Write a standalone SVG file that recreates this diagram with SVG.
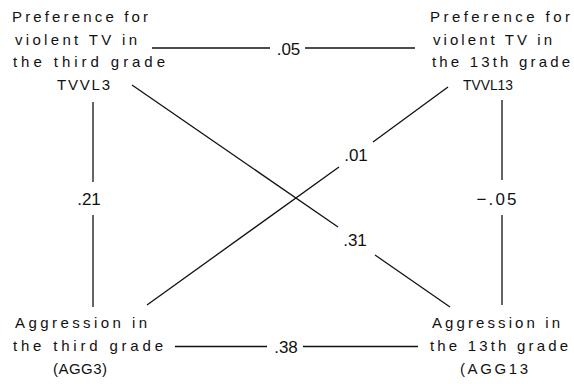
<svg xmlns="http://www.w3.org/2000/svg" width="574" height="384" viewBox="0 0 574 384">
<style>
  .t { font-family: "Liberation Sans", Arial, sans-serif; font-size: 15px; fill: #111; }
  .l { font-family: "Liberation Sans", Arial, sans-serif; font-size: 17px; fill: #111; text-anchor: middle; }
  .c { stroke: #111; stroke-width: 1.3; fill: none; }
</style>
<rect width="574" height="384" fill="#fff"/>
<g id="connectors">
  <g id="tvvl3-tvvl13">
    <line class="c" x1="152" y1="48" x2="270" y2="48"/>
    <line class="c" x1="305" y1="48" x2="415" y2="48"/>
    <text class="l" x="288.5" y="55">.05</text>
  </g>
  <g id="agg3-agg13">
    <line class="c" x1="175" y1="346.5" x2="267" y2="346.5"/>
    <line class="c" x1="303" y1="346.5" x2="418" y2="346.5"/>
    <text class="l" x="286" y="353">.38</text>
  </g>
  <g id="tvvl3-agg3">
    <line class="c" x1="93" y1="102" x2="93" y2="182"/>
    <line class="c" x1="93" y1="215" x2="93" y2="307"/>
    <text class="l" x="89" y="205">.21</text>
  </g>
  <g id="tvvl13-agg13">
    <line class="c" x1="502" y1="100" x2="502" y2="180"/>
    <line class="c" x1="502" y1="215" x2="502" y2="305"/>
    <text class="l" x="496.5" y="205" textLength="40" lengthAdjust="spacing">−.05</text>
  </g>
  <g id="tvvl3-agg13">
    <line class="c" x1="132" y1="85" x2="338" y2="227"/>
    <line class="c" x1="375" y1="255" x2="450" y2="307"/>
    <text class="l" x="355" y="246">.31</text>
  </g>
  <g id="agg3-tvvl13">
    <line class="c" x1="147" y1="305" x2="339" y2="167"/>
    <line class="c" x1="373" y1="142" x2="448" y2="87"/>
    <text class="l" x="356" y="161">.01</text>
  </g>
</g>
<g id="node-tvvl3">
  <text class="t" x="12" y="22" textLength="136" lengthAdjust="spacing">Preference for</text>
  <text class="t" x="15" y="45" textLength="122" lengthAdjust="spacing">violent TV in</text>
  <text class="t" x="13" y="67" textLength="152" lengthAdjust="spacing">the third grade</text>
  <text class="t" x="57" y="90" textLength="53" lengthAdjust="spacing">TVVL3</text>
</g>
<g id="node-tvvl13">
  <text class="t" x="430" y="22" textLength="140" lengthAdjust="spacing">Preference for</text>
  <text class="t" x="433" y="45" textLength="119" lengthAdjust="spacing">violent TV in</text>
  <text class="t" x="432" y="67" textLength="138" lengthAdjust="spacing">the 13th grade</text>
  <text class="t" x="463" y="90" textLength="50" lengthAdjust="spacingAndGlyphs">TVVL13</text>
</g>
<g id="node-agg3">
  <text class="t" x="15" y="328" textLength="132" lengthAdjust="spacing">Aggression in</text>
  <text class="t" x="13" y="351" textLength="150" lengthAdjust="spacing">the third grade</text>
  <text class="t" x="53" y="374" textLength="54" lengthAdjust="spacing">(AGG3)</text>
</g>
<g id="node-agg13">
  <text class="t" x="432" y="328" textLength="128" lengthAdjust="spacing">Aggression in</text>
  <text class="t" x="430" y="351" textLength="138" lengthAdjust="spacing">the 13th grade</text>
  <text class="t" x="460" y="374" textLength="68" lengthAdjust="spacing">(AGG13</text>
</g>
</svg>
